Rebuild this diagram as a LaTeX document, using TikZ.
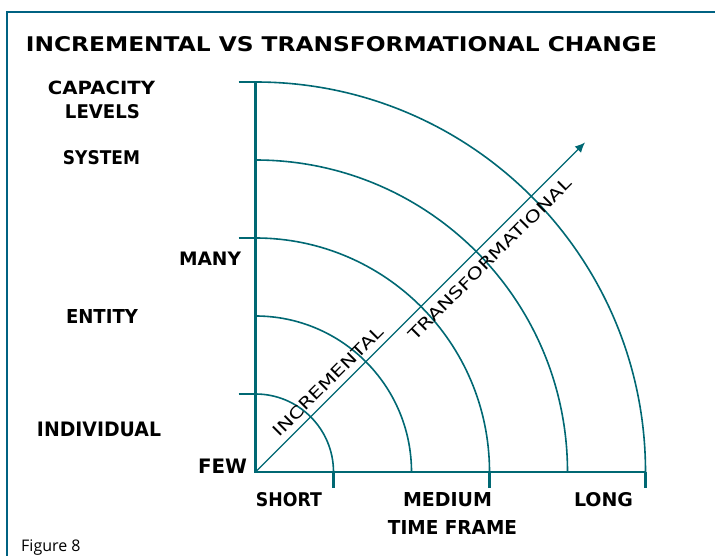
\documentclass[tikz,border=0pt]{standalone}
\usepackage{fontspec}
\setmainfont{DejaVu Sans}
\newfontfamily\figfont{Open Sans}
\usetikzlibrary{arrows.meta}
\definecolor{lineteal}{RGB}{0,104,115}
\definecolor{frameblue}{RGB}{0,98,130}
\newcommand{\capbox}[3]{\resizebox{#1pt}{#2pt}{\bfseries #3}}
\newcommand{\diagbox}[3]{\resizebox{#1pt}{#2pt}{#3}}
\begin{document}
\begin{tikzpicture}[x=1pt,y=1pt,
  lbl/.style={inner sep=0pt,outer sep=0pt,anchor=center},
  axisline/.style={draw=lineteal,line width=2.2pt},
  arcline/.style={draw=lineteal,line width=1.6pt},
  tickline/.style={draw=lineteal,line width=2.2pt},
  framel/.style={draw=frameblue,line width=2.4pt}]
\useasboundingbox (0,0) rectangle (715,-556);
\fill[white] (0,0) rectangle (715,-556);
\draw[framel] (7,-556) -- (7,-12) -- (715,-12);
\coordinate (O) at (255.5,-472);
\coordinate (Ytop) at (255.5,-82);
\coordinate (Xend) at (645,-472);
\coordinate (tip) at (585,-142.5);
% arcs
\foreach \r in {78,156,234,312,390}{
  \draw[arcline] ([xshift=\r pt]O) arc[start angle=0,end angle=90,radius=\r];
}
% ticks
\foreach \r in {78,234,390}{
  \draw[tickline] ([xshift=-17pt,yshift=\r pt]O) -- ([yshift=\r pt]O);
  \draw[tickline] ([xshift=\r pt]O) -- ([xshift=\r pt,yshift=-16pt]O);
}
% axes
\draw[axisline] (Ytop) -- (O) -- (Xend);
% diagonal arrow
\draw[draw=lineteal,line width=1.4pt,-{Latex[length=10pt,width=9pt]}] (O) -- (tip);
% labels
\node[lbl] (title) at (341.5,-44.5) {\capbox{631}{15}{INCREMENTAL VS TRANSFORMATIONAL CHANGE}};
\node[lbl] (cap) at (101.5,-87.5) {\capbox{107}{13.5}{CAPACITY}};
\node[lbl] (lev) at (102.5,-112) {\capbox{75}{14}{LEVELS}};
\node[lbl] (sys) at (101.5,-158) {\capbox{77}{14}{SYSTEM}};
\node[lbl] (many) at (210,-258.5) {\capbox{62}{13.5}{MANY}};
\node[lbl] (ent) at (102,-316.5) {\capbox{72}{14}{ENTITY}};
\node[lbl] (ind) at (99,-429.5) {\capbox{124}{14.5}{INDIVIDUAL}};
\node[lbl] (few) at (222.5,-466.5) {\capbox{49}{14.5}{FEW}};
\node[lbl] (short) at (289,-500) {\capbox{66}{14}{SHORT}};
\node[lbl] (med) at (447.5,-500) {\capbox{89}{14}{MEDIUM}};
\node[lbl] (long) at (603.5,-500) {\capbox{59}{14}{LONG}};
\node[lbl] (tf) at (452.5,-527) {\capbox{129}{14}{TIME FRAME}};
\node[lbl,rotate=45] (incr) at (328,-381) {\diagbox{148}{12}{INCREMENTAL}};
\node[lbl,rotate=45] (trans) at (490,-259) {\diagbox{222}{12}{TRANSFORMATIONAL}};
\node[inner sep=0pt,anchor=base west] (fig) at (21,-551) {\figfont\fontsize{16}{18}\selectfont Figure 8};
\end{tikzpicture}
\end{document}
